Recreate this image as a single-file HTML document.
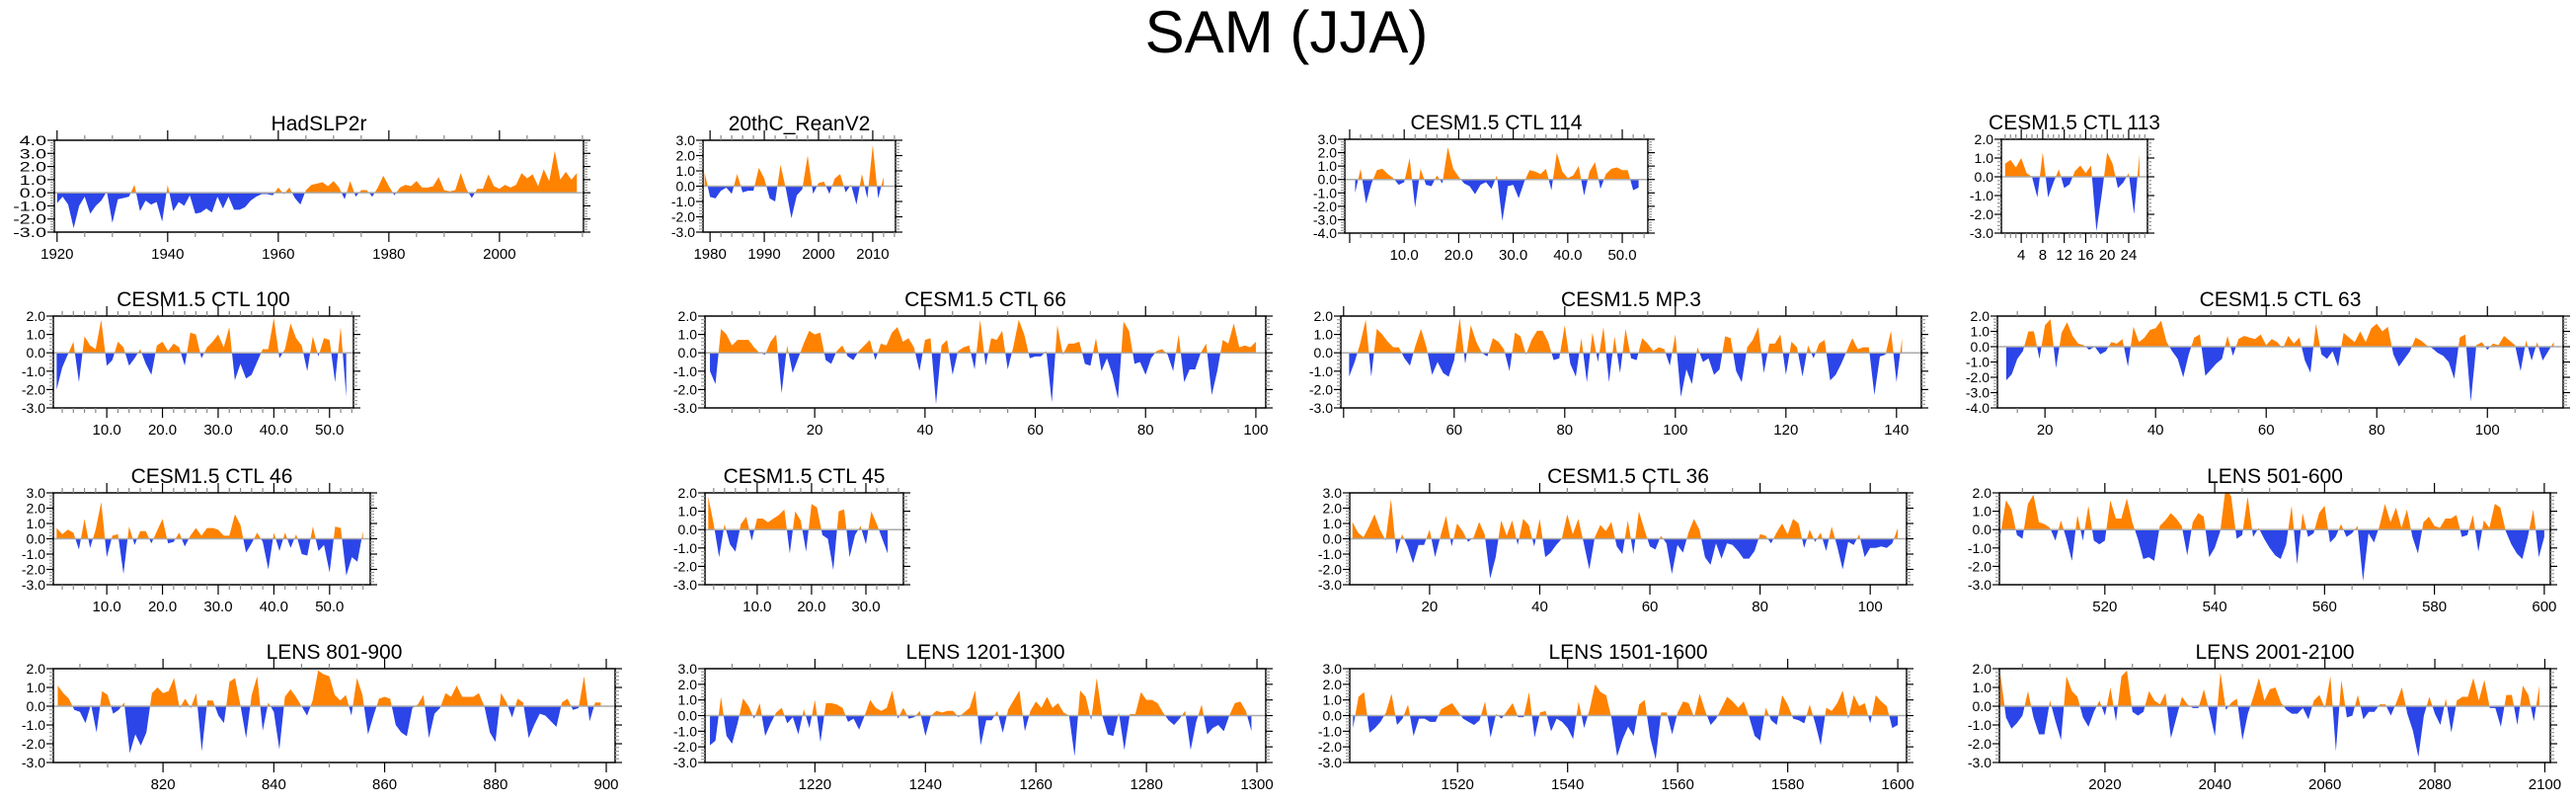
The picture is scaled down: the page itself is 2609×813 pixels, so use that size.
<!DOCTYPE html>
<html><head><meta charset="utf-8">
<style>
html,body{margin:0;padding:0;background:#fff;}
svg{display:block;font-family:"Liberation Sans",sans-serif;}
</style></head>
<body>
<svg id="chart" width="2609" height="813" viewBox="0 0 2609 813" xmlns="http://www.w3.org/2000/svg">
<rect width="2609" height="813" fill="#fff"/>
<text x="1303" y="53" font-size="60" text-anchor="middle">SAM (JJA)</text>
</svg>
<script>
const had_start = 1920;
const had_vals = [-0.8,-0.3,-0.9,-2.7,-1.0,-0.3,-1.6,-1.0,-0.6,0.1,-2.3,-0.5,-0.4,-0.3,0.6,-1.4,-0.6,-0.9,-0.7,-2.2,0.6,-1.4,-0.7,-1.0,-0.2,-1.6,-1.5,-1.2,-1.5,-0.3,-1.2,-0.3,-1.3,-1.3,-1.1,-0.6,-0.3,-0.1,-0.1,-0.2,0.4,-0.1,0.4,-0.4,-0.9,0.2,0.6,0.7,0.8,0.5,0.9,0.4,-0.5,0.9,-0.3,0.2,0.2,-0.3,0.4,1.3,0.5,-0.2,0.4,0.6,0.5,0.9,0.4,0.4,0.5,1.2,0.2,0.1,0.2,1.5,0.3,-0.4,0.3,0.3,1.4,0.5,0.3,0.6,0.4,0.6,1.5,1.1,1.4,0.5,1.8,0.9,3.2,1.0,1.6,1.0,1.5];
const rean_start = 1979;
const rean_vals = [0.9,-0.7,-0.8,-0.3,-0.1,-0.5,0.8,-0.4,-0.3,-0.3,1.2,0.5,-0.8,-1.0,1.4,-0.2,-2.1,-0.6,-0.2,2.0,-0.5,0.2,0.3,-0.5,0.5,0.8,-0.4,0.1,-1.2,0.8,-0.8,2.7,-0.8,0.6];
const ctl114_start = 1;
const ctl114_vals = [-1.0,0.8,-1.8,-0.3,0.7,0.8,0.4,0.1,-0.4,-0.2,1.6,-2.1,0.8,-0.4,-0.5,0.3,-0.3,2.4,0.8,0.2,-0.3,-0.5,-1.1,-0.4,-0.2,-0.7,0.3,-3.1,-0.5,-0.4,-1.4,-0.2,0.7,0.6,0.4,0.8,-0.8,2.0,0.6,0.1,0.3,1.0,-1.2,0.6,1.3,-0.7,0.4,0.8,0.9,0.7,0.7,-0.8,-0.6];
const ctl113_start = 1;
const ctl113_vals = [0.7,0.9,0.5,1.0,0.2,0.0,-1.1,1.3,-1.1,-0.3,0.4,-0.6,-0.4,0.3,0.6,0.2,0.6,-2.9,-0.9,1.3,0.7,-0.6,-0.3,0.2,-2.0,1.2];
const ctl100_start = 1;
const ctl100_vals = [-2.0,-0.8,-0.1,0.6,-1.6,0.9,0.4,0.2,1.8,-0.7,-0.4,0.6,0.3,-0.7,-0.3,0.2,-0.6,-1.2,0.4,0.6,0.1,0.5,0.3,-0.7,1.1,1.0,-0.3,0.3,0.6,1.0,0.3,1.4,-1.5,-0.6,-1.4,-1.2,-0.5,0.2,0.2,1.9,-0.3,0.2,1.6,0.8,0.4,-1.0,0.9,-0.2,0.8,0.7,-1.6,1.4,-2.4];
const ctl66_start = 1;
const ctl66_vals = [-1.0,-1.7,1.3,1.0,0.4,0.7,0.7,0.7,0.3,0.0,-0.1,0.6,1.0,-2.2,0.4,-1.1,-0.3,0.5,1.2,1.0,1.1,-0.4,-0.6,0.1,0.4,-0.2,-0.4,0.1,0.4,0.7,-0.4,0.5,0.4,1.1,1.4,0.6,0.8,0.3,-1.0,0.7,0.8,-2.8,0.4,0.7,-1.2,0.1,0.3,0.4,-0.9,1.8,-0.7,0.8,0.7,1.2,-0.9,0.3,1.8,1.0,-0.3,-0.2,-0.2,0.1,-2.7,1.5,-0.1,0.5,0.5,0.6,-0.6,-0.7,0.8,-1.0,-0.3,-1.2,-2.5,1.7,1.2,-0.6,-0.5,-1.2,-0.3,0.1,0.2,-0.1,-1.0,1.0,-1.6,-0.9,-0.9,0.0,0.5,-2.3,-1.0,0.7,0.5,1.6,0.3,0.4,0.3,0.6];
const mp3_start = 41;
const mp3_vals = [-1.3,-0.5,0.5,1.8,-1.3,1.3,1.0,0.6,0.3,0.3,-0.3,-0.7,0.4,1.3,0.3,-1.2,-0.5,-1.1,-1.3,-0.4,1.9,-0.6,1.5,0.6,0.0,-0.2,0.8,0.6,0.2,-1.0,1.1,0.9,-0.1,0.7,1.2,1.2,0.6,-0.4,-0.3,1.5,-0.6,-1.3,0.8,-1.6,1.1,-0.5,1.4,-1.6,0.9,-1.1,1.3,-0.3,-0.4,0.8,0.5,0.1,0.3,0.2,-0.7,1.0,-2.4,-0.9,-1.7,0.3,-0.5,-0.3,-1.2,-0.9,0.9,0.8,-1.0,-1.6,0.3,0.7,1.4,-1.1,0.5,0.5,1.0,-1.2,0.6,0.3,-1.3,0.4,-0.3,0.5,0.7,-1.5,-1.2,-0.6,0.1,0.8,0.2,0.3,0.3,-2.3,-0.2,-0.1,1.2,-1.6,0.8];
const ctl63_start = 13;
const ctl63_vals = [-2.2,-1.8,-0.8,-0.3,1.0,1.0,-0.8,1.4,1.8,-1.4,0.9,1.6,0.7,0.2,0.1,-0.2,0.0,-0.5,-0.3,0.3,0.2,0.5,-1.3,1.3,0.3,0.6,1.1,1.2,1.7,0.3,-0.3,-0.8,-2.0,-0.5,0.6,0.8,-1.9,-1.5,-1.1,-0.8,0.7,-0.6,0.5,0.7,0.6,0.5,0.8,0.1,0.5,0.3,-0.1,0.7,0.2,0.6,-0.9,-1.7,1.5,-0.5,-0.8,-0.3,-1.3,0.9,0.6,0.3,1.0,0.3,1.2,1.5,1.0,1.3,-0.5,-1.3,-0.8,-0.3,0.6,0.4,0.1,-0.1,-0.4,-0.6,-1.0,-2.1,0.6,0.8,-3.6,0.1,0.3,-0.2,0.2,0.1,0.7,0.4,0.1,-1.6,0.4,-0.9,0.3,-0.9,-0.3,0.3];
const ctl46_start = 1;
const ctl46_vals = [0.7,0.3,0.6,0.4,-0.7,1.3,-0.6,0.6,2.4,-1.2,0.2,0.3,-2.3,0.8,-0.4,0.5,0.5,-0.3,0.5,1.3,-0.3,-0.2,0.4,-0.5,0.2,0.7,0.2,0.7,0.7,0.6,0.2,0.2,1.6,0.9,-0.9,-0.3,0.4,-0.2,-2.0,0.4,-0.8,0.4,-0.6,0.3,-1.0,-1.1,0.8,-0.8,-0.4,-2.2,0.8,0.7,-2.4,-1.2,-1.5,0.5];
const ctl45_start = 1;
const ctl45_vals = [1.8,0.3,-1.5,0.3,-0.8,-1.2,0.3,0.7,-0.6,0.6,0.6,0.4,0.6,0.8,1.1,-1.3,1.0,0.5,-1.2,1.4,1.2,-0.3,-0.5,-2.2,1.0,1.1,-1.5,-0.3,0.2,-0.8,1.0,0.3,-0.5,-1.3];
const ctl36_start = 6;
const ctl36_vals = [1.1,0.4,0.1,0.8,1.6,0.6,-0.1,2.6,-1.0,0.3,-0.5,-1.6,-0.4,-0.4,0.6,-1.2,0.2,1.5,-0.5,1.0,0.5,-0.2,0.1,1.1,0.3,-2.6,-1.2,1.2,0.2,1.2,-0.4,1.3,0.9,-0.5,1.3,-1.2,-0.9,-0.4,0.0,1.6,0.3,1.3,-0.3,-2.0,0.1,0.9,0.5,1.1,-0.5,-1.0,1.2,-1.0,1.8,0.6,-0.5,-0.7,0.2,-0.3,-2.3,-0.4,-0.9,0.4,1.3,0.6,-1.2,-1.7,-0.3,-1.3,-0.3,-0.4,-0.8,-1.3,-1.3,-0.8,0.3,0.2,-0.3,0.4,1.0,0.3,1.3,1.0,-0.6,0.6,-0.2,0.4,-0.8,0.8,-0.5,-2.0,-0.2,-0.4,0.3,-1.2,-0.6,-0.6,-0.5,-0.6,-0.3,0.7];
const l501_start = 501;
const l501_vals = [-0.3,1.6,1.1,-0.3,-0.5,1.4,1.9,0.4,0.3,0.1,-0.6,0.5,-0.5,-1.7,0.8,-0.6,1.3,-0.6,-0.8,-0.6,1.6,0.6,0.6,1.7,0.4,-0.5,-1.6,-1.5,-1.7,0.2,0.5,0.9,0.6,0.2,-1.4,0.4,0.9,0.7,-1.5,-1.0,-0.1,2.3,1.8,-0.5,-0.3,1.8,-0.4,0.1,-0.5,-1.0,-1.4,-1.6,-0.8,1.3,-1.9,0.9,-0.4,-0.2,0.9,1.3,-0.7,-0.4,0.3,-0.4,-0.2,0.2,-2.8,-0.2,-0.7,0.2,1.4,0.4,1.2,0.1,1.1,-0.4,-1.3,0.4,0.7,0.2,0.1,0.6,0.6,0.8,-0.4,-0.3,0.8,-1.2,0.5,0.1,1.4,1.2,-0.1,-0.8,-1.3,-1.6,-0.4,1.1,-1.5,-0.4];
const l801_start = 801;
const l801_vals = [1.1,0.7,0.4,-0.2,-0.3,-0.9,0.1,-1.4,0.8,0.6,-0.4,-0.2,0.2,-2.5,-1.5,-2.1,-1.4,0.7,1.0,0.7,0.8,1.5,-0.1,0.4,-0.1,0.7,-2.4,0.3,0.3,-0.5,-0.9,1.3,1.5,0.0,-1.7,0.6,1.6,-1.3,0.2,-0.3,-2.3,0.5,0.9,0.5,0.0,-0.5,0.3,1.9,1.7,1.6,0.6,0.3,0.6,-0.5,1.5,0.6,-1.5,-0.5,0.4,0.5,0.4,-1.0,-1.4,-1.6,-0.1,0.1,0.6,-1.7,-0.4,-0.1,0.7,0.5,1.1,0.5,0.5,0.5,0.7,0.0,-1.4,-1.9,0.7,0.2,-0.6,0.4,0.2,-1.7,-1.0,-0.4,-0.5,-0.8,-1.1,0.2,0.4,-0.2,-0.1,1.6,-0.8,0.2,0.2];
const l1201_start = 1201;
const l1201_vals = [-1.9,-1.6,1.2,-1.3,-1.8,-0.5,1.1,0.6,-0.2,0.8,-1.3,-0.5,0.2,0.5,-0.5,-0.1,-1.2,0.4,-0.8,1.0,-1.7,0.8,0.8,0.7,0.5,-0.4,-0.2,-0.9,0.0,1.0,0.5,0.3,0.5,1.6,-0.2,0.5,-0.2,-0.1,0.3,-1.3,0.0,0.3,0.2,0.3,0.3,-0.1,0.2,0.5,1.6,-1.9,-0.3,-0.3,0.3,-1.1,0.4,1.0,1.6,-1.0,0.3,0.9,0.5,1.2,0.5,0.8,0.2,0.0,-2.6,1.6,1.2,-0.3,2.4,0.0,-1.2,-1.3,0.2,-2.2,0.1,0.1,1.5,1.0,1.0,0.8,0.2,-0.3,-0.6,-0.2,0.3,-2.2,-0.4,0.7,-1.2,-0.8,-0.6,-1.0,0.0,0.8,0.9,0.3,-1.0];
const l1501_start = 1501;
const l1501_vals = [-0.8,1.2,1.5,-1.1,-0.8,-0.4,0.2,1.4,-0.6,-0.2,0.7,-1.3,-0.2,-0.2,-0.4,-0.4,0.4,0.6,0.8,0.3,-0.2,-0.4,-0.6,-0.3,0.9,-1.4,0.1,-0.2,0.3,0.8,-0.1,-0.1,1.5,-1.4,0.2,0.3,-1.0,-0.2,-0.4,-0.8,-1.5,0.9,-0.8,0.4,2.0,1.5,1.3,-0.2,-2.6,-1.5,-0.7,-1.3,0.7,1.0,-1.4,-2.8,0.2,0.2,-1.2,0.2,0.9,0.8,-0.1,1.4,0.3,-0.6,-0.2,0.5,1.2,0.9,0.5,0.9,-0.1,-1.3,-1.6,0.5,-0.3,-0.6,1.3,0.7,-0.2,-0.3,-0.5,0.7,-0.5,-1.9,0.5,0.3,0.8,1.6,-0.2,1.3,0.6,0.8,-0.5,1.3,0.9,0.6,-0.8,-0.6];
const l2001_start = 2001;
const l2001_vals = [1.7,-0.6,-1.2,-0.9,-0.5,0.8,-0.6,-1.5,-1.5,0.3,-0.8,-1.8,1.6,0.8,0.5,-0.6,-1.1,-0.3,0.3,-0.5,1.0,-0.8,1.6,1.9,-0.3,-0.5,-0.3,0.8,0.3,0.1,0.7,-1.7,-0.6,0.5,0.1,-0.1,-0.1,0.9,-0.3,-1.6,1.8,-0.2,0.2,0.4,-1.8,-0.4,0.5,1.5,0.3,0.9,1.0,0.2,-0.2,-0.4,-0.4,-0.1,-0.7,0.3,0.6,-0.1,1.6,-2.4,1.4,-0.6,-0.5,0.6,-0.7,-0.3,-0.3,0.1,0.1,-0.5,0.2,1.0,-0.4,-1.3,-2.7,-0.5,0.5,-0.4,-1.0,0.4,-1.4,0.3,0.5,0.5,1.5,0.3,1.4,-0.1,-0.1,-1.1,0.6,0.6,-1.0,1.1,0.6,-0.8,1.1];

const NS = 'http://www.w3.org/2000/svg';
const svg = document.getElementById('chart');
function mk(tag, attrs, parent) {
  const e = document.createElementNS(NS, tag);
  for (const k in attrs) e.setAttribute(k, attrs[k]);
  (parent || svg).appendChild(e);
  return e;
}
// layout: [slug, title, vals, start, fx0, fx1, fy0, fy1, xmin, xmax, ymin, ymax, major, minor, fmt, firstLabel, ylabelStretch]
const panels = [
 ['hadslp2r','HadSLP2r',had_vals,had_start,55,591,142,235,1919.5,2015.2,-3,4,20,5,0,1920,1.4],
 ['20thc-reanv2','20thC_ReanV2',rean_vals,rean_start,712,907,142,235,1978.7,2014.2,-3,3,10,2,0,1980,1],
 ['cesm-ctl-114','CESM1.5 CTL 114',ctl114_vals,ctl114_start,1362,1669,141,236,-0.9,54.7,-4,3,10,2,1,10,1],
 ['cesm-ctl-113','CESM1.5 CTL 113',ctl113_vals,ctl113_start,2027,2175,141,236,0.3,27.5,-3,2,4,1,0,4,1],
 ['cesm-ctl-100','CESM1.5 CTL 100',ctl100_vals,ctl100_start,54,358,320,413,0.4,54.3,-3,2,10,2,1,10,1],
 ['cesm-ctl-66','CESM1.5 CTL 66',ctl66_vals,ctl66_start,714,1282,320,413,0.1,101.8,-3,2,20,5,0,20,1],
 ['cesm-mp3','CESM1.5 MP.3',mp3_vals,mp3_start,1358,1946,320,413,39.5,144.5,-3,2,20,5,0,60,1],
 ['cesm-ctl-63','CESM1.5 CTL 63',ctl63_vals,ctl63_start,2023,2596,320,413,11.4,113.7,-4,2,20,5,0,20,1],
 ['cesm-ctl-46','CESM1.5 CTL 46',ctl46_vals,ctl46_start,54,375,499,592,0.4,57.3,-3,3,10,2,1,10,1],
 ['cesm-ctl-45','CESM1.5 CTL 45',ctl45_vals,ctl45_start,714,915,499,592,0.4,36.9,-3,2,10,2,1,10,1],
 ['cesm-ctl-36','CESM1.5 CTL 36',ctl36_vals,ctl36_start,1367,1931,499,592,5.5,106.6,-3,3,20,5,0,20,1],
 ['lens-501-600','LENS 501-600',l501_vals,l501_start,2025,2583,499,592,500.8,601.1,-3,2,20,5,0,520,1],
 ['lens-801-900','LENS 801-900',l801_vals,l801_start,54,623,677,772,800.2,901.6,-3,2,20,5,0,820,1],
 ['lens-1201-1300','LENS 1201-1300',l1201_vals,l1201_start,714,1282,677,772,1200.1,1301.6,-3,3,20,5,0,1220,1],
 ['lens-1501-1600','LENS 1501-1600',l1501_vals,l1501_start,1367,1931,677,772,1500.4,1601.6,-3,3,20,5,0,1520,1],
 ['lens-2001-2100','LENS 2001-2100',l2001_vals,l2001_start,2025,2583,677,772,2000.8,2101,-3,2,20,5,0,2020,1]
];
panels.forEach(function(p, idx) {
  const [slug,title,vals,start,fx0,fx1,fy0,fy1,xmin,xmax,ymin,ymax,major,minor,fmt,firstLabel,ys] = p;
  const X = v => fx0 + (v - xmin) / (xmax - xmin) * (fx1 - fx0);
  const Y = v => fy1 - (v - ymin) / (ymax - ymin) * (fy1 - fy0);
  const g = mk('g', {});
  
  
  const t = mk('text', {x:(fx0+fx1)/2, y:fy0-10, 'font-size':21, 'text-anchor':'middle'}, g);
  t.textContent = title;
  
  
  const y0 = Y(0);
  let d = 'M' + X(start).toFixed(2) + ',' + y0.toFixed(2);
  vals.forEach(function(v, i) { d += 'L' + X(start + i).toFixed(2) + ',' + Y(v).toFixed(2); });
  d += 'L' + X(start + vals.length - 1).toFixed(2) + ',' + y0.toFixed(2) + 'Z';
  const cu = mk('clipPath', {id:'cu'+idx}, g);
  mk('rect', {x:fx0, y:fy0, width:fx1-fx0, height:y0-fy0}, cu);
  const cd = mk('clipPath', {id:'cd'+idx}, g);
  mk('rect', {x:fx0, y:y0, width:fx1-fx0, height:fy1-y0}, cd);
  const pos = mk('path', {d:d, fill:'#ff8200', 'clip-path':'url(#cu'+idx+')'}, g);
  
  
  const neg = mk('path', {d:d, fill:'#2b45e8', 'clip-path':'url(#cd'+idx+')'}, g);
  
  
  const zl = mk('line', {x1:fx0, x2:fx1, y1:y0, y2:y0, stroke:'#aaa', 'stroke-width':1.5}, g);
  
  
  const fr = mk('rect', {x:fx0, y:fy0, width:fx1-fx0, height:fy1-fy0, fill:'none', stroke:'#000', 'stroke-width':1.5}, g);
  
  
  for (let v = ymin; v <= ymax + 1e-6; v += 0.2) {
    const r = Math.round(v * 10) / 10;
    const isMaj = Math.abs(r - Math.round(r)) < 1e-6;
    const yy = Y(r);
    const len = isMaj ? 7 : 4, col = isMaj ? '#000' : '#999';
    mk('line', {x1:fx0-len, x2:fx0, y1:yy, y2:yy, stroke:col, 'stroke-width':1.2}, g);
    mk('line', {x1:fx1, x2:fx1+len, y1:yy, y2:yy, stroke:col, 'stroke-width':1.2}, g);
    if (isMaj) {
      const lx = fx0 - 8;
      const lb = mk('text', {x:0, y:0, 'font-size':14, 'text-anchor':'end', transform:'translate(' + lx + ',' + (yy + 5) + ') scale(' + ys + ',1)'}, g);
      lb.textContent = r.toFixed(1);
      
      
    }
  }
  const s = Math.ceil(xmin / minor) * minor;
  for (let v = s; v <= xmax; v += minor) {
    const isMaj = Math.abs(v / major - Math.round(v / major)) < 1e-6;
    const xx = X(v);
    const len = isMaj ? 10 : 5, col = isMaj ? '#000' : '#888';
    mk('line', {x1:xx, x2:xx, y1:fy1, y2:fy1+len, stroke:col, 'stroke-width':1.2}, g);
    mk('line', {x1:xx, x2:xx, y1:fy0-len, y2:fy0, stroke:col, 'stroke-width':1.2}, g);
    if (isMaj && v >= firstLabel) {
      const lb = mk('text', {x:xx, y:fy1+27, 'font-size':15, 'text-anchor':'middle'}, g);
      lb.textContent = fmt ? v.toFixed(1) : String(v);
      
      
    }
  }
});
</script>
</body></html>
